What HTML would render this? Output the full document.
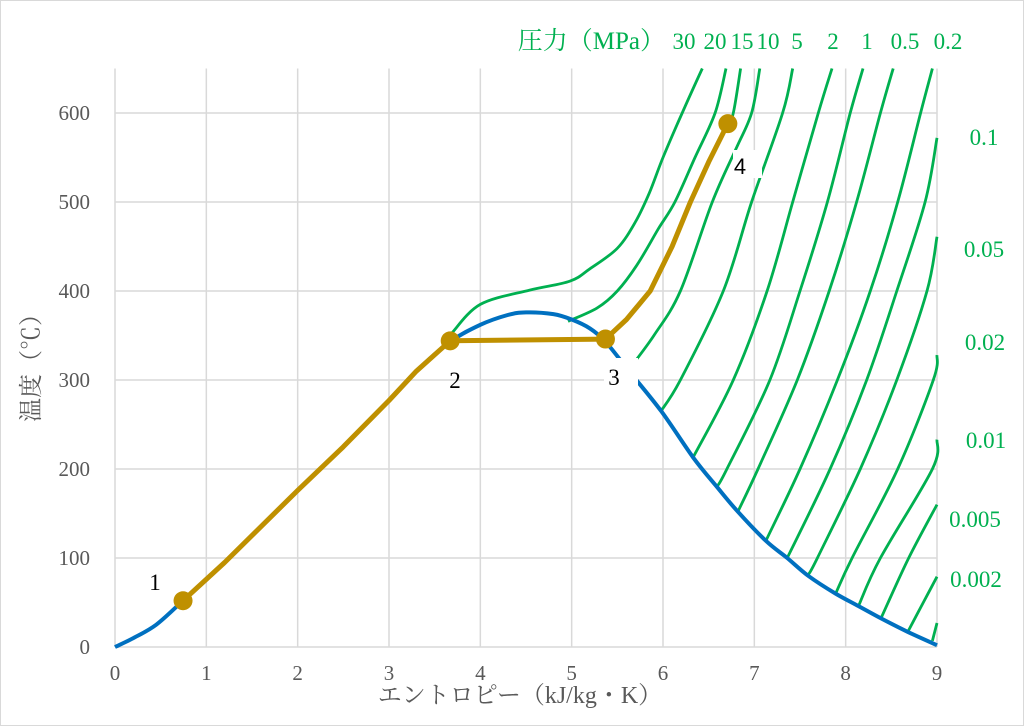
<!DOCTYPE html>
<html><head><meta charset="utf-8"><style>
html,body{margin:0;padding:0;background:#fff;}
svg{display:block;font-family:"Liberation Serif","Noto Serif CJK SC","Noto Sans CJK JP",serif;}
</style></head><body>
<svg id="chart" width="1024" height="726" viewBox="0 0 1024 726" xmlns="http://www.w3.org/2000/svg">
<rect x="0.5" y="0.5" width="1023" height="725" fill="#fff" stroke="#d9d9d9"/>
<g id="grid"></g>
<g id="lines"></g>
<g id="labels"></g>
</svg>
<script>
const xTicks = [0,1,2,3,4,5,6,7,8,9];
const yTicks = [0,100,200,300,400,500,600];
const satCurve = [[0,0],[0.2,10],[0.45,25],[0.745,52],[1.2,95],[2,176],[2.5,225],[3,277],[3.3,310],[3.67,343],[4.0,362],[4.3,373],[4.5,376],[4.8,374],[5.0,368],[5.2,358],[5.37,343],[5.62,311],[5.98,265],[6.33,213],[6.59,180],[6.82,152],[7.13,119],[7.36,100],[7.59,80],[7.89,60],[8.14,46],[8.39,32],[8.68,17],[9.0,2]];
const cyclePath = [[0.745,52],[1.2,95],[2,176],[2.5,225],[3,277],[3.3,310],[3.67,344],[5.37,346],[5.6,368],[5.86,400],[6.1,450],[6.3,500],[6.5,545],[6.71,588]];
const cyclePoints = [[0.745,52],[3.67,344],[5.37,346],[6.71,588]];
const cycleNames = ["1","2","3","4"];
const pressures = ["30","20","15","10","5","2","1","0.5","0.2","0.1","0.05","0.02","0.01","0.005","0.002","0.001"];
const isoP30 = [[3.69,353],[4.0,385],[4.54,401],[4.98,411],[5.2,425],[5.5,448],[5.7,478],[5.85,510],[6.0,550],[6.21,600],[6.43,650]];
const isoP20 = [[4.96,366],[5.28,381],[5.5,400],[5.72,430],[5.95,470],[6.13,500],[6.35,550],[6.57,600],[6.69,650]];
const isoP15 = [[5.37,346],[5.6,368],[5.86,400],[6.1,450],[6.3,500],[6.5,545],[6.71,588],[6.77,600],[6.85,650]];
const isoP10 = [[5.62,311],[5.9,350],[6.19,400],[6.54,500],[6.8,560],[6.97,600],[7.06,650]];
const isoP5 = [[5.97,264],[6.19,300],[6.66,400],[6.97,500],[7.31,600],[7.42,650]];
const isoP2 = [[6.33,213],[6.77,300],[7.14,400],[7.42,500],[7.7,600],[7.85,650]];
const isoP1 = [[6.59,180],[6.7,200],[7.17,300],[7.5,400],[7.8,500],[8.05,600],[8.19,650]];
const isoP05 = [[6.82,152],[7.04,200],[7.47,300],[7.82,400],[8.12,500],[8.38,600],[8.52,650]];
const isoP02 = [[7.13,120],[7.5,200],[7.91,300],[8.27,400],[8.57,500],[8.82,600],[8.95,650]];
const isoP01 = [[7.36,100],[7.83,200],[8.23,300],[8.56,400],[8.87,500],[9.0,572]];
const isoP005 = [[7.59,81],[7.69,100],[8.16,200],[8.56,300],[8.89,400],[9.0,461]];
const isoP002 = [[7.89,60],[8.07,100],[8.57,200],[8.96,300],[9.0,328]];
const isoP001 = [[8.14,46],[8.38,100],[8.95,200],[9.0,233]];
const isoP0005 = [[8.39,33],[8.69,100],[9.0,160]];
const isoP0002 = [[8.68,17],[8.85,50],[9.0,79]];
const isoP0001 = [[8.95,7],[9.0,27]];
const isobars = [isoP30,isoP20,isoP15,isoP10,isoP5,isoP2,isoP1,isoP05,isoP02,isoP01,isoP005,isoP002,isoP001,isoP0005,isoP0002,isoP0001];

const X0=115, X1=937, Y0=647, Y1=68.5, SMAX=9, TMAX=650;
function xs(s){return X0+(X1-X0)*s/SMAX;}
function yt(t){return Y0-(Y0-Y1)*t/TMAX;}
const NS="http://www.w3.org/2000/svg";
function mk(tag,attrs,parent){const e=document.createElementNS(NS,tag);for(const k in attrs)e.setAttribute(k,attrs[k]);parent.appendChild(e);return e;}
function pathD(pts){return pts.map((p,i)=>(i?"L":"M")+xs(p[0]).toFixed(1)+" "+yt(p[1]).toFixed(1)).join(" ");}
function smoothD(pts){
  const P=pts.map(p=>[xs(p[0]),yt(p[1])]);
  let d="M"+P[0][0].toFixed(1)+" "+P[0][1].toFixed(1);
  for(let i=0;i<P.length-1;i++){
    const p0=P[Math.max(0,i-1)],p1=P[i],p2=P[i+1],p3=P[Math.min(P.length-1,i+2)];
    const c1=[p1[0]+(p2[0]-p0[0])/6,p1[1]+(p2[1]-p0[1])/6];
    const c2=[p2[0]-(p3[0]-p1[0])/6,p2[1]-(p3[1]-p1[1])/6];
    d+=" C"+c1[0].toFixed(1)+" "+c1[1].toFixed(1)+" "+c2[0].toFixed(1)+" "+c2[1].toFixed(1)+" "+p2[0].toFixed(1)+" "+p2[1].toFixed(1);
  }
  return d;
}
const grid=document.getElementById('grid'), lines=document.getElementById('lines'), labels=document.getElementById('labels');

xTicks.forEach(v=>{
  const l=mk('line',{x1:xs(v),x2:xs(v),y1:Y1,y2:Y0,stroke:'#d9d9d9','stroke-width':1.5},grid);
  
  
  const t=mk('text',{x:xs(v),y:680,'text-anchor':'middle','font-size':21,fill:'#595959'},labels);
  t.textContent=v;
  
  
});
yTicks.forEach(v=>{
  const l=mk('line',{x1:X0,x2:X1,y1:yt(v),y2:yt(v),stroke:'#d9d9d9','stroke-width':1.5},grid);
  
  
  const t=mk('text',{x:90,y:yt(v)+7,'text-anchor':'end','font-size':21,fill:'#595959'},labels);
  t.textContent=v;
  
  
});

isobars.forEach((pts,i)=>{
  const p=mk('path',{d:smoothD(pts),fill:'none',stroke:'#00b050','stroke-width':2.8,'stroke-linejoin':'round'},lines);
  
  
});
const sat=mk('path',{d:smoothD(satCurve),fill:'none',stroke:'#0070c0','stroke-width':4,'stroke-linejoin':'round'},lines);


const cyc=mk('path',{d:pathD(cyclePath),fill:'none',stroke:'#bf9000','stroke-width':5,'stroke-linejoin':'round'},lines);


cyclePoints.forEach((p,i)=>{
  const c=mk('circle',{cx:xs(p[0]),cy:yt(p[1]),r:9.5,fill:'#bf9000'},lines);
  
  
});
</script>
<svg style="position:absolute;left:0;top:0" width="1024" height="726">
<g font-family="Liberation Serif, serif">
<text x="155" y="590" font-size="23" text-anchor="middle" fill="#000">1</text>
<text x="455" y="388" font-size="23" text-anchor="middle" fill="#000">2</text>
<rect x="604" y="358" width="34" height="36" fill="#fff"/>
<text x="614" y="385" font-size="23" text-anchor="middle" fill="#000">3</text>
<rect x="733" y="150" width="29" height="28" fill="#fff"/>
<text x="740" y="174" font-size="22" text-anchor="middle" fill="#000" font-family="Liberation Sans, sans-serif">4</text>
</g>
<g font-family="Liberation Serif, 'Noto Serif CJK SC', 'Noto Sans CJK JP', serif" fill="#00b050" font-size="23" text-anchor="middle">
<text x="665" y="49" font-size="25" text-anchor="end">圧力（MPa）</text>
<text x="684" y="49">30</text>
<text x="715" y="49">20</text>
<text x="742" y="49">15</text>
<text x="768" y="49">10</text>
<text x="797" y="49">5</text>
<text x="833" y="49">2</text>
<text x="867" y="49">1</text>
<text x="905" y="49">0.5</text>
<text x="948" y="49">0.2</text>
<text x="984" y="145">0.1</text>
<text x="984" y="257">0.05</text>
<text x="985" y="350">0.02</text>
<text x="986" y="448">0.01</text>
<text x="975" y="527">0.005</text>
<text x="976" y="587">0.002</text>
</g>
<g font-family="Liberation Serif, 'Noto Serif CJK JP', 'Noto Sans CJK JP', serif" fill="#595959" font-size="24">
<text x="520" y="703" text-anchor="middle">エントロピー（kJ/kg・K）</text>
<text transform="translate(39,362) rotate(-90)" text-anchor="middle">温度（℃）</text>
</g>
</svg>
</body></html>
